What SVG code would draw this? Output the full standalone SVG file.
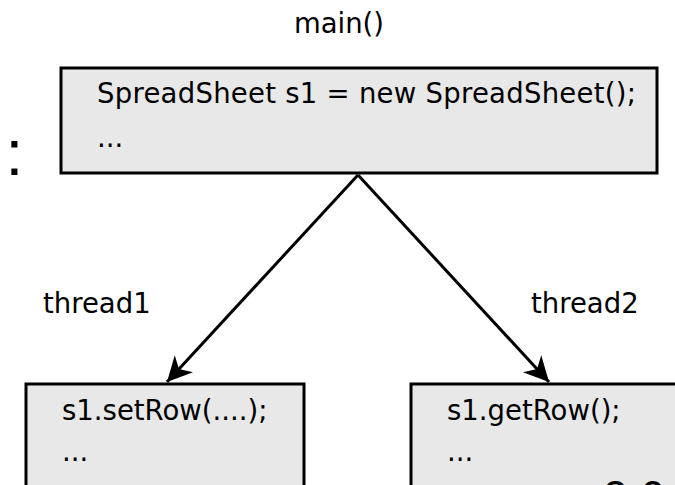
<svg xmlns="http://www.w3.org/2000/svg" width="675" height="485" viewBox="0 0 675 485">
<defs>
<style>
.box{fill:#e8e8e8;stroke:#000;stroke-width:3}
.t{font-family:"DejaVu Sans",sans-serif;font-size:27.5px;fill:#000}
.edge{stroke:#000;stroke-width:3;fill:none}
</style>
<marker id="ah" markerUnits="userSpaceOnUse" markerWidth="28" markerHeight="28" viewBox="-25 -13 27 26" refX="0" refY="0" orient="auto">
<path d="M0,0 L-24,-12 L-17,0 L-24,12 Z" fill="#000"/>
</marker>
</defs>
<rect width="675" height="485" fill="#fff"/>
<text x="5.5" y="174.5" style="font-family:'Liberation Sans',sans-serif;font-size:64px;fill:#000">:</text>
<text class="t" x="339" y="33" text-anchor="middle">main()</text>
<g id="main">
<rect class="box" x="61" y="68" width="596" height="105"/>
<text class="t" x="97" y="103" textLength="539" lengthAdjust="spacing">SpreadSheet s1 = new SpreadSheet();</text>
<text class="t" x="97" y="147">...</text>
</g>
<g id="t1">
<rect class="box" x="26" y="384" width="278" height="120"/>
<text class="t" x="62" y="420">s1.setRow(....);</text>
<text class="t" x="62" y="461">...</text>
</g>
<g id="t2">
<rect class="box" x="411" y="384" width="290" height="120"/>
<text class="t" x="447" y="420">s1.getRow();</text>
<text class="t" x="447" y="461">...</text>
</g>
<g id="edges">
<line class="edge" x1="358" y1="175" x2="167" y2="382" marker-end="url(#ah)"/>
<line class="edge" x1="358" y1="175" x2="549" y2="382" marker-end="url(#ah)"/>
<text class="t" x="43" y="313">thread1</text>
<text class="t" x="531" y="313">thread2</text>
</g>
<text x="603" y="512" style="font-family:'Liberation Sans',sans-serif;font-size:44px;fill:#000">2.6</text>
</svg>
